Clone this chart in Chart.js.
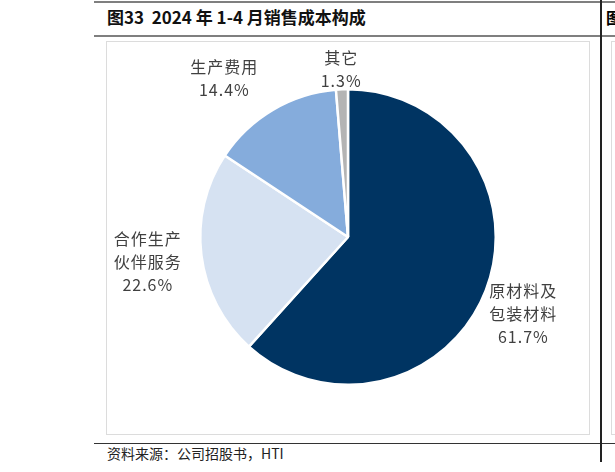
<!DOCTYPE html>
<html>
<head>
<meta charset="utf-8">
<script src="https://cdn.jsdelivr.net/npm/chart.js@4.4.1/dist/chart.umd.min.js"></script>
<style>
  body { margin: 0; width: 615px; height: 472px; overflow: hidden; background: #fff; position: relative; font-family: "Noto Sans CJK SC", sans-serif; }
  .rule { position: absolute; left: 94px; width: 521px; background: #7f7f7f; }
  .vline { position: absolute; left: 600px; top: 0; width: 2px; height: 462px; background: #222; }
  .title { position: absolute; left: 107px; top: 4px; font-size: 17px; font-weight: bold; color: #111; }
  .box { position: absolute; left: 106px; top: 41px; width: 482px; height: 392px; border: 1px solid #dcdcdc; }
  .box2 { position: absolute; left: 611px; top: 41px; width: 40px; height: 392px; border: 1px solid #dcdcdc; }
  .src { position: absolute; left: 107px; top: 443px; font-size: 14px; color: #222; }
  #wrap { position: absolute; left: 107px; top: 42px; width: 481px; height: 391px; }
</style>
</head>
<body>
<div class="rule" style="top:1px;height:2px"></div>
<div class="title">图33&nbsp; 2024 年 1-4 月销售成本构成</div>
<div class="rule" style="top:35px;height:2px"></div>
<div class="box"></div>
<div class="box2"></div>
<div class="rule" style="top:443px;height:1px;background:#333"></div>
<div class="src">资料来源：公司招股书，HTI</div>
<div class="vline"></div>
<div style="position:absolute;left:606px;top:5px;font-size:16px;font-weight:bold;">图</div>
<div id="wrap"><canvas id="pie"></canvas></div>
<script>
// 数据
const categories = [["原材料及", "包装材料"], ["合作生产", "伙伴服务"], ["生产费用"], ["其它"]];
const shares = [61.7, 22.6, 14.4, 1.3];
const colors = ["#003462", "#d6e2f2", "#85acdc", "#b4b4b4"];
// label distance beyond the rim, and a small nudge, per slice
const labelGap = [38, 52, 50, 20];
const labelNudge = [[2, 10], [-2, 0], [-23, 12], [0, 0]];

const outsideLabels = {
  id: "outsideLabels",
  afterDraw(chart) {
    const ctx = chart.ctx;
    const meta = chart.getDatasetMeta(0);
    ctx.save();
    ctx.fillStyle = "#404040";
    ctx.font = "16px 'Noto Sans CJK SC'";
    ctx.letterSpacing = "1px";
    ctx.textAlign = "center";
    ctx.textBaseline = "middle";
    meta.data.forEach((arc, i) => {
      const mid = (arc.startAngle + arc.endAngle) / 2;
      const r = arc.outerRadius + labelGap[i];
      const x = arc.x + Math.cos(mid) * r + labelNudge[i][0];
      const y = arc.y + Math.sin(mid) * r + labelNudge[i][1];
      const lines = categories[i].concat([shares[i].toFixed(1) + "%"]);
      const lh = 23;
      const y0 = y - (lines.length - 1) * lh / 2;
      lines.forEach((t, k) => ctx.fillText(t, x, y0 + k * lh));
    });
    ctx.restore();
  }
};

new Chart(document.getElementById("pie"), {
  type: "pie",
  data: {
    labels: categories.map((c) => c.join("")),
    datasets: [{
      data: shares,
      backgroundColor: colors,
      borderColor: "#ffffff",
      borderWidth: 2.5,
    }],
  },
  options: {
    responsive: true,
    maintainAspectRatio: false,
    animation: false,
    rotation: 0,
    layout: { padding: { top: 46, bottom: 47, left: 92, right: 91 } },
    plugins: { legend: { display: false }, tooltip: { enabled: false } },
  },
  plugins: [outsideLabels],
});
</script>
</body>
</html>
